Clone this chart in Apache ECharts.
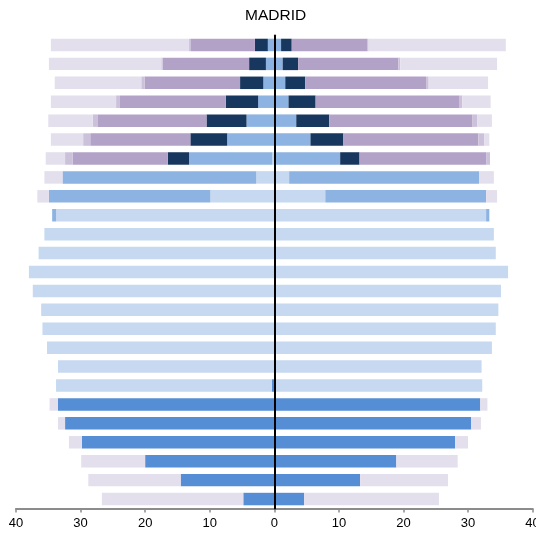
<!DOCTYPE html>
<html>
<head>
<meta charset="utf-8">
<script src="https://cdn.jsdelivr.net/npm/echarts@6/dist/echarts.min.js"></script>
<style>
  html, body { margin: 0; padding: 0; background: #fff; }
  #chart { width: 536px; height: 537px; }
</style>
</head>
<body>
<div id="chart"></div>
<script>
// rows from the bottom of the pyramid to the top
const rows = ['1','2','3','4','5','6','7','8','9','10','11','12','13',
  '14','15','16','17','18','19','20','21','22','23','24','25']
const xTicks = [-40, -30, -20, -10, 0, 10, 20, 30, 40]

// left side, segment lengths from the centre outward
const leftBlue        = [4.8,14.5,20.0,29.8,32.4,33.5,0.4,0,0,0,0,0,0,0,0,0,0,0,0,0,0,0,0,0,0]
const leftLightBlue   = [0,0,0,0,0,0,33.4,33.5,35.2,35.9,36.1,37.4,38.0,36.5,35.6,33.8,9.9,2.8,0.3,0,0,0,0,0,0]
const leftMidBlue     = [0,0,0,0,0,0,0,0,0,0,0,0,0,0,0,0.6,25.0,30.0,12.9,7.3,4.3,2.5,1.7,1.3,1.0]
const leftNavy        = [0,0,0,0,0,0,0,0,0,0,0,0,0,0,0,0,0,0,3.3,5.7,6.2,5.0,3.6,2.6,2.0]
const leftPurple      = [0,0,0,0,0,0,0,0,0,0,0,0,0,0,0,0,0,0,14.7,15.5,16.8,16.4,14.8,13.4,9.9]
const leftLavender    = [0,0,0,0,0,0,0,0,0,0,0,0,0,0,0,0,0,0,1.2,1.1,0.8,0.6,0.5,0.2,0.3]
const leftLightPurple = [21.9,14.3,9.9,2.0,1.1,1.3,0,0,0,0,0,0,0,0,0,0,1.8,2.8,3.0,5.0,6.9,10.1,13.4,17.4,21.4]

// right side
const rightBlue        = [4.6,13.3,18.9,28.0,30.5,31.9,0.1,0,0,0,0,0,0,0,0,0,0,0,0,0,0,0,0,0,0]
const rightLightBlue   = [0,0,0,0,0,0,32.1,32.1,33.7,34.3,34.7,35.1,36.2,34.3,34.0,32.8,7.9,2.3,0.2,0,0,0,0,0,0]
const rightMidBlue     = [0,0,0,0,0,0,0,0,0,0,0,0,0,0,0,0.5,24.9,29.4,10.0,5.6,3.4,2.2,1.7,1.3,1.05]
const rightNavy        = [0,0,0,0,0,0,0,0,0,0,0,0,0,0,0,0,0,0,3.0,5.1,5.1,4.2,3.1,2.4,1.65]
const rightPurple      = [0,0,0,0,0,0,0,0,0,0,0,0,0,0,0,0,0,0,19.6,20.9,22.2,22.2,18.7,15.5,11.75]
const rightLavender    = [0,0,0,0,0,0,0,0,0,0,0,0,0,0,0,0,0,0,0.6,0.9,0.7,0.5,0.4,0.3,0.15]
const rightLightPurple = [20.9,13.6,9.5,2.0,1.5,1.1,0,0,0,0,0,0,0,0,0,0,1.7,2.3,0,0.8,2.3,4.4,9.2,15.0,21.25]

const colors = ['#558ed5', '#c6d9f0', '#8db3e2', '#17375e', '#b3a2c7', '#ccc1da', '#e4dfec']
const leftSets = [leftBlue, leftLightBlue, leftMidBlue, leftNavy, leftPurple, leftLavender, leftLightPurple]
const rightSets = [rightBlue, rightLightBlue, rightMidBlue, rightNavy, rightPurple, rightLavender, rightLightPurple]

const font = "'Liberation Sans', Arial, sans-serif"

const makeSeries = (sets, sign) => sets.map((arr, i) => ({
  type: 'bar',
  stack: 'pyramid',
  barCategoryGap: '34%',
  data: arr.map(v => v * sign),
  itemStyle: { color: colors[i] },
  silent: true
}))

const chart = echarts.init(document.getElementById('chart'))
chart.setOption({
  animation: false,
  backgroundColor: '#fff',
  title: {
    text: 'MADRID',
    left: 240,
    top: 3,
    textStyle: { fontFamily: font, fontSize: 15.5, fontWeight: 'normal', color: '#000' }
  },
  grid: { left: 16, right: 3.4, top: 35.5, bottom: 28.5, containLabel: false, outerBoundsMode: 'none' },
  xAxis: {
    type: 'value',
    min: xTicks[0],
    max: xTicks[xTicks.length - 1],
    interval: 10,
    axisLine: { show: true, onZero: false, lineStyle: { color: '#8c8c8c', width: 2 } },
    axisTick: { show: true, length: 4, lineStyle: { color: '#8c8c8c', width: 1.5 } },
    splitLine: { show: false },
    axisLabel: {
      color: '#000',
      fontFamily: font,
      fontSize: 13,
      margin: 8,
      formatter: v => Math.abs(v)
    }
  },
  yAxis: {
    type: 'category',
    data: rows,
    axisLine: { show: true, onZero: true, lineStyle: { color: '#000', width: 2 } },
    axisTick: { show: false },
    axisLabel: { show: false },
    splitLine: { show: false },
    z: 10
  },
  series: [...makeSeries(leftSets, -1), ...makeSeries(rightSets, 1)]
})
</script>
</body>
</html>
